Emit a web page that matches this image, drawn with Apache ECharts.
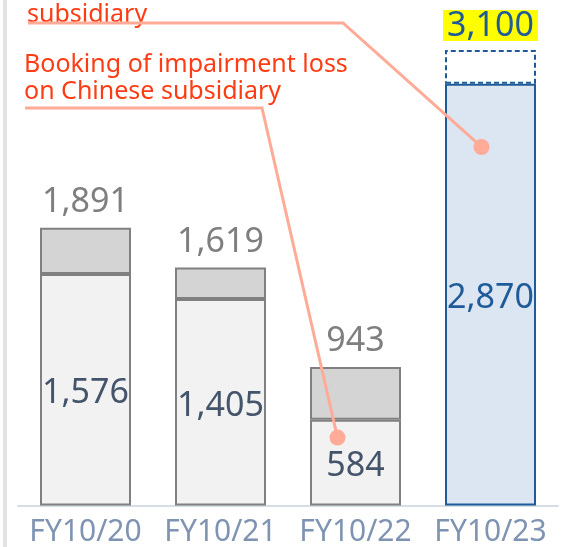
<!DOCTYPE html>
<html>
<head>
<meta charset="utf-8">
<script src="https://cdn.jsdelivr.net/npm/echarts@6/dist/echarts.min.js"></script>
<style>
html,body{margin:0;padding:0;background:#fff;}
#c{width:570px;height:547px;}
</style>
</head>
<body>
<div id="c"></div>
<script>
const categories = ['FY10/20', 'FY10/21', 'FY10/22', 'FY10/23'];
const totals = [1891, 1619, 943, 3100];
const baseValues = [1576, 1405, 584, 2870];
const annotation1Lines = ['subsidiary'];
const annotation2Lines = ['Booking of impairment loss', 'on Chinese subsidiary'];
// annotation anchors: [category, value]
const anchor1 = ['FY10/23', 2440];
const anchor2 = ['FY10/22', 462];

const upperValues = totals.map((t, i) => t - baseValues[i]);
const FONT = '"Noto Sans", sans-serif';
const BLUE = '#1f5b98';
const last = categories.length - 1;

const chart = echarts.init(document.getElementById('c'));

const lowerData = baseValues.map((v, i) => i === last ? {
  value: v,
  itemStyle: { color: '#dce6f2', borderColor: BLUE, borderWidth: 2 },
  label: { color: BLUE }
} : v);

const upperData = upperValues.map((v, i) => i === last ? {
  value: v,
  itemStyle: { color: '#ffffff', borderColor: BLUE, borderWidth: 2, borderType: [5, 3] },
  label: { color: BLUE, backgroundColor: '#ffff00', padding: [2, 4, 0, 4], lineHeight: 29, distance: 9 }
} : v);

chart.setOption({
  animation: false,
  grid: { left: 18, right: 12, top: 50, bottom: 41 },
  xAxis: {
    type: 'category',
    data: categories,
    axisLine: { lineStyle: { color: '#d5dde7', width: 2 } },
    axisTick: { show: false },
    axisLabel: { interval: 0, color: '#7f94b2', fontSize: 30, fontFamily: FONT, margin: 12, lineHeight: 29 }
  },
  yAxis: {
    type: 'value', min: 0, max: 3100, show: false, splitLine: { show: false }
  },
  series: [
    {
      type: 'bar', stack: 's', barWidth: 91,
      data: lowerData,
      itemStyle: { color: '#f2f2f2', borderColor: '#808080', borderWidth: 2 },
      label: {
        show: true, position: 'inside', offset: [0, 4], color: '#44546a', fontSize: 34, fontFamily: FONT,
        lineHeight: 29,
        formatter: p => p.value.toLocaleString('en-US')
      }
    },
    {
      type: 'bar', stack: 's', barWidth: 91,
      data: upperData,
      itemStyle: { color: '#d4d4d4', borderColor: '#808080', borderWidth: 2 },
      label: {
        show: true, position: 'top', distance: 11, color: '#7f7f7f', fontSize: 34, fontFamily: FONT,
        lineHeight: 29,
        formatter: p => totals[p.dataIndex].toLocaleString('en-US')
      }
    }
  ]
});

const p1 = chart.convertToPixel({ xAxisIndex: 0, yAxisIndex: 0 }, anchor1);
const p2 = chart.convertToPixel({ xAxisIndex: 0, yAxisIndex: 0 }, anchor2);
const d1 = [p1[0] - 9, p1[1]];
const d2 = [p2[0] - 18, p2[1]];
const LINE = '#ffab98';
const RED = '#ff3c14';

chart.setOption({
  graphic: [
    { type: 'rect', shape: { x: 3, y: 0, width: 4, height: 547 }, style: { fill: '#e2e2e2' }, z: 1 },
    { type: 'text', left: 27, top: 1, z: 100,
      style: { text: annotation1Lines.join('\n'), fill: RED, font: '25px "Noto Sans", sans-serif', lineHeight: 27 } },
    { type: 'text', left: 24, top: 51, z: 100,
      style: { text: annotation2Lines.join('\n'), fill: RED, font: '25px "Noto Sans", sans-serif', lineHeight: 27 } },
    { type: 'polyline', z: 100, shape: { points: [[28, 23], [343, 23], d1] },
      style: { stroke: LINE, lineWidth: 3, fill: null } },
    { type: 'polyline', z: 100, shape: { points: [[25, 108], [262, 108], d2] },
      style: { stroke: LINE, lineWidth: 3, fill: null } },
    { type: 'circle', z: 101, shape: { cx: d1[0], cy: d1[1], r: 8 }, style: { fill: LINE } },
    { type: 'circle', z: 101, shape: { cx: d2[0], cy: d2[1], r: 8 }, style: { fill: LINE } }
  ]
});
</script>
</body>
</html>
